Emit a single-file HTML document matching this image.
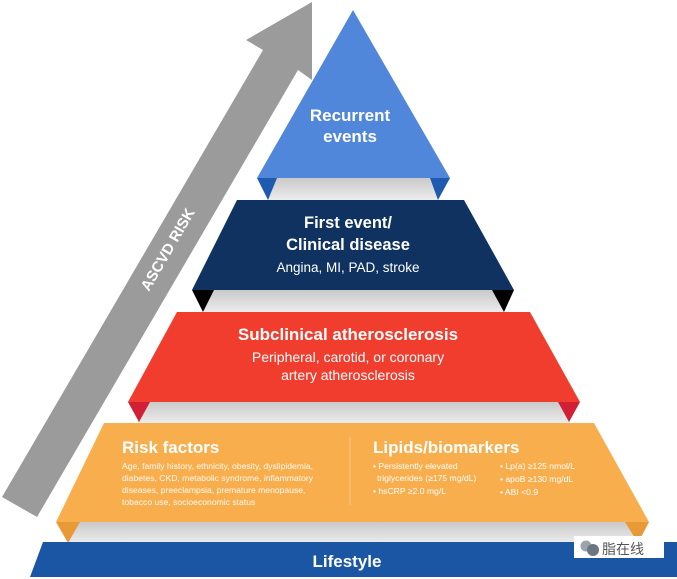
<!DOCTYPE html>
<html><head><meta charset="utf-8"><style>
html,body{margin:0;padding:0;background:#fff;}
svg{display:block;font-family:"Liberation Sans","Noto Sans CJK SC",sans-serif;}
.b{font-weight:bold;fill:#fff;}
.w{fill:#fff;}
</style></head><body>
<svg width="677" height="579" viewBox="0 0 677 579" xmlns="http://www.w3.org/2000/svg">
<defs>
<linearGradient id="g" x1="0" y1="0" x2="0" y2="1"><stop offset="0" stop-color="#c9c9c9"/><stop offset="1" stop-color="#ececec"/></linearGradient>
</defs>
<polygon points="2,497 263,50 246,40 312,2 312,80 298,70 37,517" fill="#9b9b9b"/>
<text x="0" y="0" class="b" font-size="15" transform="translate(172,252) rotate(-60)" text-anchor="middle">ASCVD RISK</text>
<rect x="268" y="178" width="170" height="22" fill="url(#g)"/>
<rect x="204" y="290" width="300" height="22" fill="url(#g)"/>
<rect x="138" y="402" width="432" height="21" fill="url(#g)"/>
<rect x="68" y="522" width="570" height="21" fill="url(#g)"/>
<polygon points="257,178 277,178 268,200" fill="#1e5bb0"/>
<polygon points="430,178 450,178 438,200" fill="#1e5bb0"/>
<polygon points="192,290 214,290 203,312" fill="#000"/>
<polygon points="492,290 514,290 504,312" fill="#000"/>
<polygon points="128,402 150,402 139,422" fill="#d11f35"/>
<polygon points="558,402 580,402 569,422" fill="#d11f35"/>
<polygon points="56,522 80,522 68,543" fill="#e79a35"/>
<polygon points="625,522 649,522 638,543" fill="#e79a35"/>
<polygon points="353,10 450,178 257,178" fill="#5187da"/>
<polygon points="237,200 464,200 514,290 192,290" fill="#0f3261"/>
<polygon points="177,312 530,312 580,402 128,402" fill="#f03d2d"/>
<polygon points="104,423 594,423 649,522 56,522" fill="#f9ae4e"/>
<polygon points="43,542 677,542 677,577 30,577" fill="#1b56a5"/>
<text x="350" y="121" class="b" font-size="17" text-anchor="middle">Recurrent</text>
<text x="350" y="142" class="b" font-size="17" text-anchor="middle">events</text>
<text x="348" y="228" class="b" font-size="16.5" text-anchor="middle">First event/</text>
<text x="348" y="250" class="b" font-size="16.5" text-anchor="middle">Clinical disease</text>
<text x="348" y="272" class="w" font-size="13.5" text-anchor="middle">Angina, MI, PAD, stroke</text>
<text x="348" y="340" class="b" font-size="17" text-anchor="middle">Subclinical atherosclerosis</text>
<text x="348" y="362" class="w" font-size="14" text-anchor="middle">Peripheral, carotid, or coronary</text>
<text x="348" y="380" class="w" font-size="14" text-anchor="middle">artery atherosclerosis</text>
<text x="122" y="453" class="b" font-size="17">Risk factors</text>
<g class="w" font-size="8.6" fill-opacity="0.95">
<text x="122" y="469">Age, family history, ethnicity, obesity, dyslipidemia,</text>
<text x="122" y="481">diabetes, CKD, metabolic syndrome, inflammatory</text>
<text x="122" y="493">diseases, preeclampsia, premature menopause,</text>
<text x="122" y="505">tobacco use, socioeconomic status</text>
</g>
<line x1="350" y1="437" x2="350" y2="505" stroke="#f6c88a" stroke-width="1"/>
<text x="373" y="453" class="b" font-size="17">Lipids/biomarkers</text>
<g class="w" font-size="8.6">
<text x="373" y="469">• Persistently elevated</text>
<text x="377" y="481">triglycerides (≥175 mg/dL)</text>
<text x="373" y="494">• hsCRP ≥2.0 mg/L</text>
<text x="500" y="469">• Lp(a) ≥125 nmol/L</text>
<text x="500" y="482">• apoB ≥130 mg/dL</text>
<text x="500" y="495">• ABI &lt;0.9</text>
</g>
<text x="347" y="567" class="b" font-size="17" text-anchor="middle">Lifestyle</text>
<rect x="574" y="536" width="90" height="22" fill="#fff"/>
<circle cx="586" cy="546" r="5.5" fill="#9aa4ad"/>
<circle cx="593" cy="550" r="6" fill="#6b7680"/>
<text x="602" y="554" font-size="14" fill="#555">脂在线</text>
</svg>
</body></html>
